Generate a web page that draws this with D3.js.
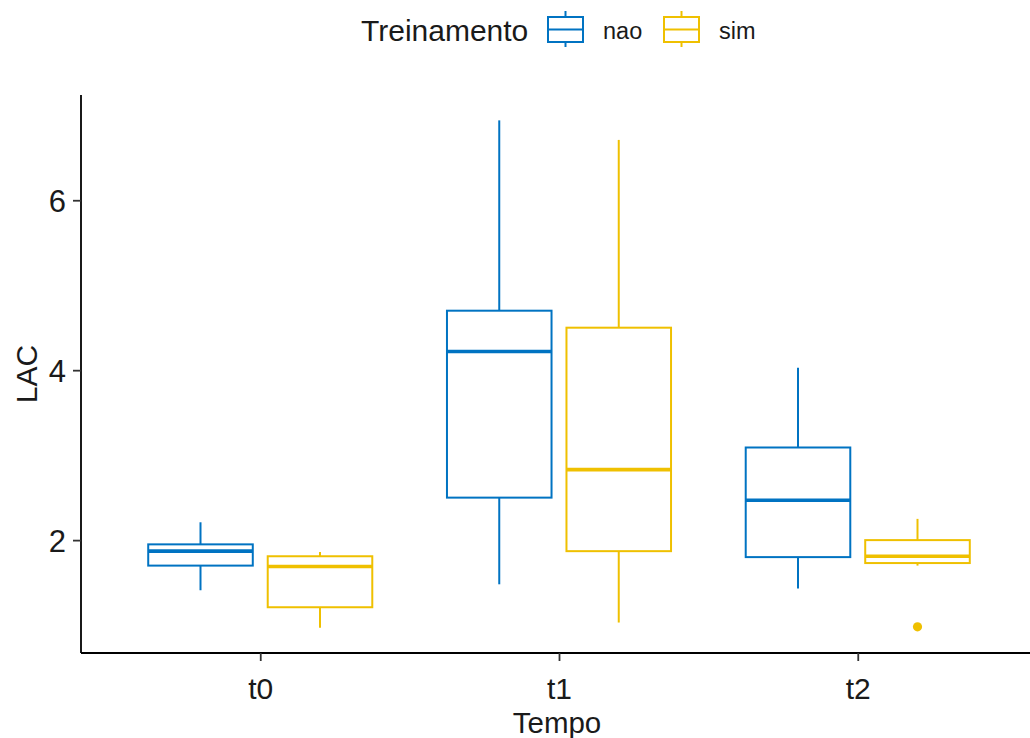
<!DOCTYPE html>
<html>
<head>
<meta charset="utf-8">
<script src="https://cdn.jsdelivr.net/npm/d3@7"></script>
<style>
  html, body { margin: 0; padding: 0; background: #ffffff; }
  svg { display: block; font-family: "Liberation Sans", Arial, sans-serif; }
</style>
</head>
<body>
<svg id="chart" width="1030" height="738"></svg>
<script>
// Categories and groups
const tempos = ["t0", "t1", "t2"];
const grupos = ["nao", "sim"];
const coresGrupo = ["#0073C2", "#EFC000"];

// Box statistics per time point: [lower whisker, Q1, median, Q3, upper whisker]
const naoStats = [
  [1.41, 1.70, 1.87, 1.95, 2.21],
  [1.48, 2.50, 4.22, 4.70, 6.94],
  [1.43, 1.80, 2.47, 3.09, 4.03]
];
const simStats = [
  [0.97, 1.21, 1.69, 1.81, 1.86],
  [1.03, 1.87, 2.83, 4.50, 6.71],
  [1.70, 1.73, 1.81, 2.00, 2.25]
];
// Points beyond the whiskers
const naoOutliers = [[], [], []];
const simOutliers = [[], [], [0.98]];

const yTicks = [2, 4, 6];

const statsByGroup = [naoStats, simStats];
const outliersByGroup = [naoOutliers, simOutliers];

const svg = d3.select("#chart");
const panel = { left: 81, top: 95, bottom: 653, right: 1037 };
const textColor = "#1a1a1a";

// Discrete x positions with 0.6 expansion on each side
const x = d3.scaleLinear()
  .domain([-0.6, tempos.length - 1 + 0.6])
  .range([panel.left, panel.right]);

// Continuous y with 5% expansion around the data range
const allVals = [];
statsByGroup.forEach((g, gi) => g.forEach((s, ti) => {
  allVals.push(...s, ...outliersByGroup[gi][ti]);
}));
const yMin = d3.min(allVals), yMax = d3.max(allVals);
const pad = (yMax - yMin) * 0.05;
const y = d3.scaleLinear()
  .domain([yMin - pad, yMax + pad])
  .range([panel.bottom, panel.top]);

const dodge = 0.2;      // half of dodge width 0.8 split between 2 groups
const boxW = 0.35;      // box width in category units

const unit = x(1) - x(0);

// Boxes
grupos.forEach((grp, gi) => {
  const color = coresGrupo[gi];
  const off = (gi === 0 ? -dodge : dodge);
  const g = svg.append("g").attr("class", "box-" + grp);
  statsByGroup[gi].forEach((s, ti) => {
    const [lo, q1, med, q3, hi] = s;
    const cx = x(ti + off);
    const half = boxW * unit / 2;
    // whiskers
    g.append("line").attr("x1", cx).attr("x2", cx)
      .attr("y1", y(q3)).attr("y2", y(hi))
      .attr("stroke", color).attr("stroke-width", 2);
    g.append("line").attr("x1", cx).attr("x2", cx)
      .attr("y1", y(q1)).attr("y2", y(lo))
      .attr("stroke", color).attr("stroke-width", 2);
    // box
    g.append("rect")
      .attr("x", cx - half).attr("y", y(q3))
      .attr("width", 2 * half).attr("height", y(q1) - y(q3))
      .attr("fill", "#ffffff").attr("stroke", color).attr("stroke-width", 2);
    // median
    g.append("line")
      .attr("x1", cx - half).attr("x2", cx + half)
      .attr("y1", y(med)).attr("y2", y(med))
      .attr("stroke", color).attr("stroke-width", 3.6);
    // outliers
    outliersByGroup[gi][ti].forEach(v => {
      g.append("circle").attr("cx", cx).attr("cy", y(v)).attr("r", 4.6)
        .attr("fill", color);
    });
  });
});

// Axes
const yAxis = d3.axisLeft(y).tickValues(yTicks).tickSize(8).tickPadding(7)
  .tickFormat(d3.format("d"));
const gy = svg.append("g").attr("transform", `translate(${panel.left},0)`).call(yAxis);
gy.select(".domain").attr("stroke", "#000").attr("stroke-width", 1.8)
  .attr("d", `M0,${panel.top}V${panel.bottom}`);
gy.selectAll(".tick line").attr("stroke", "#333").attr("stroke-width", 1.8);
gy.selectAll(".tick text").attr("fill", textColor).style("font-size", "31px")
  .attr("dy", "0.36em")
  .style("font-family", "Liberation Sans, Arial, sans-serif");

const xAxis = d3.axisBottom(x).tickValues(tempos.map((d, i) => i))
  .tickFormat(i => tempos[i]).tickSize(8).tickPadding(6);
const gx = svg.append("g").attr("transform", `translate(0,${panel.bottom})`).call(xAxis);
gx.select(".domain").attr("stroke", "#000").attr("stroke-width", 1.8)
  .attr("d", `M${panel.left},0H${panel.right}`);
gx.selectAll(".tick line").attr("stroke", "#333").attr("stroke-width", 1.8);
gx.selectAll(".tick text").attr("fill", textColor).style("font-size", "30px")
  .attr("y", 46).attr("dy", 0)
  .style("font-family", "Liberation Sans, Arial, sans-serif");

// Axis titles
svg.append("text").attr("x", 557).attr("y", 733)
  .attr("text-anchor", "middle").style("font-size", "29.5px").attr("fill", textColor)
  .text("Tempo");
svg.append("text")
  .attr("transform", `translate(37,${(panel.top + panel.bottom) / 2}) rotate(-90)`)
  .attr("text-anchor", "middle").style("font-size", "30px").attr("fill", textColor)
  .text("LAC");

// Legend
const legend = svg.append("g").attr("class", "legend");
legend.append("text").attr("x", 361).attr("y", 41)
  .style("font-size", "30px").attr("fill", textColor).text("Treinamento");
const keyX = [548, 664];
const labX = [603, 719];
grupos.forEach((grp, gi) => {
  const color = coresGrupo[gi];
  const k = legend.append("g");
  const kx = keyX[gi], kw = 35;
  k.append("line").attr("x1", kx + kw / 2).attr("x2", kx + kw / 2)
    .attr("y1", 11).attr("y2", 47).attr("stroke", color).attr("stroke-width", 2);
  k.append("rect").attr("x", kx).attr("y", 17).attr("width", kw).attr("height", 25)
    .attr("fill", "#fff").attr("stroke", color).attr("stroke-width", 2);
  k.append("line").attr("x1", kx).attr("x2", kx + kw)
    .attr("y1", 29.5).attr("y2", 29.5).attr("stroke", color).attr("stroke-width", 2);
  legend.append("text").attr("x", labX[gi]).attr("y", 39)
    .style("font-size", "23.5px").attr("fill", textColor).text(grp);
});
</script>
</body>
</html>
